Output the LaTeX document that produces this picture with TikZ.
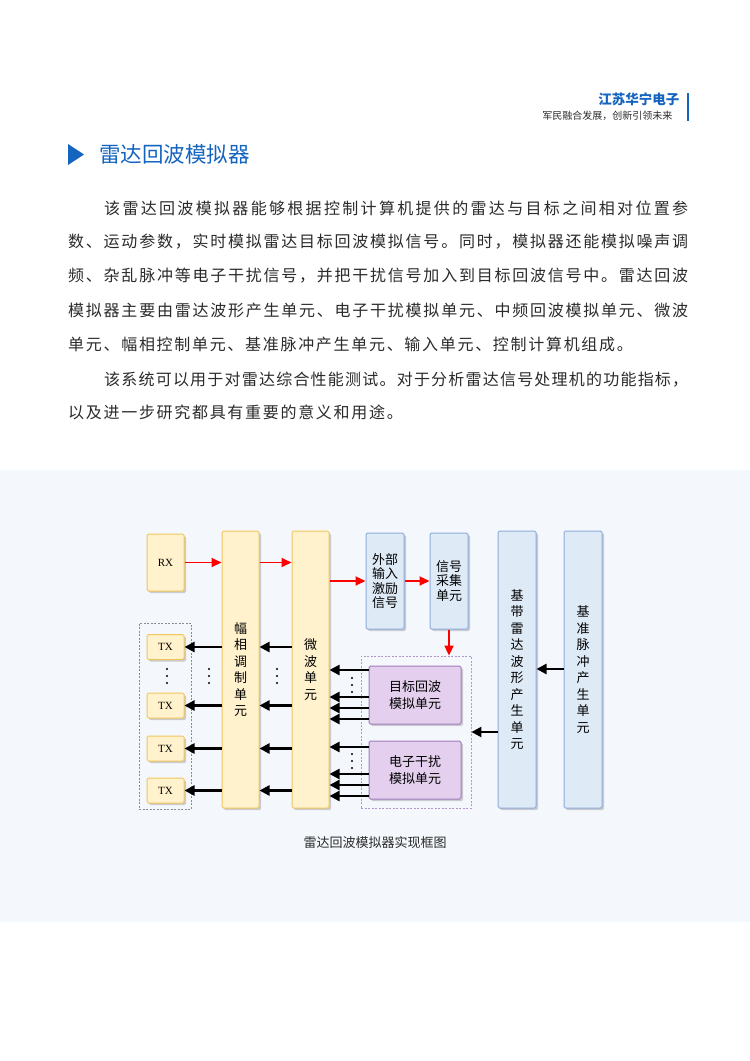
\documentclass[tikz,border=0pt]{standalone}
\usepackage{fontspec}
\setmainfont{Liberation Serif}
\newfontfamily\cjk{Noto Sans CJK SC}
\usetikzlibrary{arrows.meta,shadows}

\definecolor{hnblue}{HTML}{1565C0}
\definecolor{panelbg}{HTML}{F4F8FC}
\definecolor{yfill}{HTML}{FFF2CC}
\definecolor{ydraw}{HTML}{F2C55C}
\definecolor{bfill}{HTML}{DEEAF6}
\definecolor{bdraw}{HTML}{8FAADC}
\definecolor{pfill}{HTML}{E4D0EE}
\definecolor{pdraw}{HTML}{A07CBD}
\definecolor{bodytext}{HTML}{2B2B2B}

% spread the characters of one line over a given width
\makeatletter
\newcommand\jline[2]{\makebox[#1][s]{\jl@a#2\@nil}}
\def\jl@a#1{#1\jl@b}
\def\jl@b#1{\ifx#1\@nil\else\hfill#1\expandafter\jl@b\fi}
\makeatother

\tikzset{
  unitbox/.style={draw, rounded corners=1.5pt, line width=1pt, inner sep=0pt, align=center,
    drop shadow={shadow xshift=2pt, shadow yshift=-2pt, opacity=0.3, fill=black!60},
    font=\cjk\fontsize{13}{16.5}\selectfont},
  ybox/.style={unitbox, fill=yfill, draw=ydraw},
  bbox/.style={unitbox, fill=bfill, draw=bdraw},
  pbox/.style={unitbox, fill=pfill, draw=pdraw, font=\cjk\fontsize{13}{17}\selectfont},
  latinlbl/.style={font=\fontsize{11}{11}\selectfont},
  groupbox/.style={draw, dashed, line width=0.8pt, dash pattern=on 2pt off 1.5pt, inner sep=0pt},
  redarr/.style={-{Triangle[length=10pt,width=9pt]}, red, line width=1.8pt},
  blkarr/.style={-{Triangle[length=10pt,width=10pt]}, black, line width=2.3pt},
  bodyline/.style={anchor=west, inner sep=0pt, text=bodytext, font=\cjk\fontsize{16}{16}\selectfont}
}

\begin{document}
\begin{tikzpicture}[x=1pt,y=-1pt]
  \useasboundingbox (0,0) rectangle (750,1061);
  \fill[white] (0,0) rectangle (750,1061);

  % header
  \node[anchor=east, text=hnblue, font=\cjk\bfseries\fontsize{13.5}{14}\selectfont] (brand) at (683,99.5) {江苏华宁电子};
  \node[anchor=east, text=bodytext, font=\cjk\fontsize{10}{10}\selectfont] (slogan) at (676,115.5) {军民融合发展，创新引领未来};
  \draw[hnblue, line width=2pt] (687.5,93) -- (687.5,121);

  % title
  \fill[hnblue] (68,144) -- (68,165) -- (84,154.5) -- cycle;
  \node[anchor=west, inner sep=0pt, text=hnblue, font=\cjk\fontsize{21.5}{22}\selectfont] (title) at (99,154.5) {雷达回波模拟器};

  % body text
  \node[bodyline] (p1) at (104,208) {\jline{584pt}{该雷达回波模拟器能够根据控制计算机提供的雷达与目标之间相对位置参}};
  \node[bodyline] (p2) at (68,242) {\jline{620pt}{数、运动参数，实时模拟雷达目标回波模拟信号。同时，模拟器还能模拟噪声调}};
  \node[bodyline] (p3) at (68,276) {\jline{620pt}{频、杂乱脉冲等电子干扰信号，并把干扰信号加入到目标回波信号中。雷达回波}};
  \node[bodyline] (p4) at (68,310) {\jline{620pt}{模拟器主要由雷达波形产生单元、电子干扰模拟单元、中频回波模拟单元、微波}};
  \node[bodyline] (p5) at (68,344) {\jline{564.7pt}{单元、幅相控制单元、基准脉冲产生单元、输入单元、控制计算机组成。}};
  \node[bodyline] (p6) at (104,380) {\jline{584pt}{该系统可以用于对雷达综合性能测试。对于分析雷达信号处理机的功能指标，}};
  \node[bodyline] (p7) at (68,412) {\jline{334.6pt}{以及进一步研究都具有重要的意义和用途。}};

  % figure panel
  \fill[panelbg] (0,470) rectangle (750,922);

  % groups
  \node[groupbox, draw=black!45, minimum width=52pt, minimum height=186pt] (txg) at (165,716) {};
  \node[groupbox, draw=pdraw!80, minimum width=110pt, minimum height=152pt] (grp) at (416,732) {};

  % units
  \node[ybox, latinlbl, minimum width=37pt, minimum height=57pt] (rx) at (165.5,562.5) {RX};
  \foreach \i/\yy in {1/647,2/705.5,3/748.5,4/790.5}
    \node[ybox, latinlbl, minimum width=37pt, minimum height=25pt] (tx\i) at (165.5,\yy) {TX};
  \node[ybox, minimum width=37pt, minimum height=277pt] (fx) at (240.5,669.5) {幅\\相\\调\\制\\单\\元};
  \node[ybox, minimum width=37pt, minimum height=277pt] (wb) at (310.5,669.5) {微\\波\\单\\元};
  \node[bbox, minimum width=38pt, minimum height=96pt, font=\cjk\fontsize{13}{14.5}\selectfont] (wai) at (385,581) {外部\\输入\\激励\\信号};
  \node[bbox, minimum width=38pt, minimum height=96pt, font=\cjk\fontsize{13}{14.5}\selectfont] (cj) at (449,581) {信号\\采集\\单元};
  \node[bbox, minimum width=38pt, minimum height=277pt] (jd) at (517,669.5) {基\\带\\雷\\达\\波\\形\\产\\生\\单\\元};
  \node[bbox, minimum width=38pt, minimum height=277pt] (jz) at (583,669.5) {基\\准\\脉\\冲\\产\\生\\单\\元};
  \node[pbox, minimum width=92pt, minimum height=58pt] (mb) at (415,695) {目标回波\\模拟单元};
  \node[pbox, minimum width=92pt, minimum height=58pt] (gr) at (415,770) {电子干扰\\模拟单元};

  % red signal path
  \draw[redarr] (rx.east) -- (rx.east -| fx.west);
  \draw[redarr] (fx.east |- rx.east) -- (wb.west |- rx.east);
  \draw[redarr] (wb.east |- wai.west) -- (wai.west);
  \draw[redarr] (wai.east) -- (cj.west);
  \draw[redarr] (cj.south) -- (cj.south |- grp.north);

  % black paths
  \foreach \i in {1,...,4} {
    \draw[blkarr] (fx.west |- tx\i.east) -- (tx\i.east);
    \draw[blkarr] (wb.west |- tx\i.east) -- (fx.east |- tx\i.east);
  }
  \foreach \yy in {670,697,708,719}
    \draw[blkarr] (mb.west |- 0,\yy) -- (wb.east |- 0,\yy);
  \foreach \yy in {747,774,785,796}
    \draw[blkarr] (gr.west |- 0,\yy) -- (wb.east |- 0,\yy);
  \draw[blkarr] (jz.west |- 0,669) -- (jd.east |- 0,669);
  \draw[blkarr] (jd.west |- grp.east) -- (grp.east);

  % dots
  \foreach \xx/\yy in {167/669,209/669,277/669,352/678,352/754}
    \foreach \k in {0,7,14}
      \fill (\xx,\yy+\k) circle (1.1pt);

  % caption
  \node[text=bodytext, font=\cjk\fontsize{13}{13}\selectfont] (cap) at (375,843) {雷达回波模拟器实现框图};
\end{tikzpicture}
\end{document}
